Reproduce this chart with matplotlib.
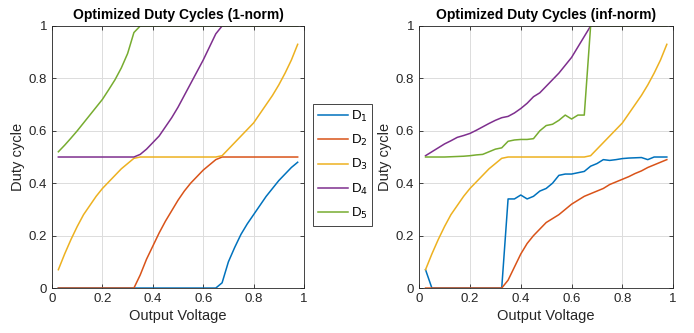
import matplotlib
matplotlib.use('Agg')
import matplotlib.pyplot as plt

plt.rcParams['font.family'] = ['Liberation Sans', 'DejaVu Sans']

# output voltage samples
vout = [0.025, 0.05, 0.075, 0.1, 0.125, 0.15, 0.175, 0.2, 0.225, 0.25,
        0.275, 0.3, 0.325, 0.35, 0.375, 0.4, 0.425, 0.45, 0.475, 0.5,
        0.525, 0.55, 0.575, 0.6, 0.625, 0.65, 0.675, 0.7, 0.725, 0.75,
        0.775, 0.8, 0.825, 0.85, 0.875, 0.9, 0.925, 0.95, 0.975]

# 1-norm duty cycles
d1_one = [0, 0, 0, 0, 0, 0, 0, 0, 0, 0,
          0, 0, 0, 0, 0, 0, 0, 0, 0, 0,
          0, 0, 0, 0, 0, 0, 0.02, 0.1, 0.155, 0.205,
          0.245, 0.28, 0.315, 0.35, 0.38, 0.41, 0.435, 0.46, 0.48]
d2_one = [0, 0, 0, 0, 0, 0, 0, 0, 0, 0,
          0, 0, 0, 0.05, 0.11, 0.16, 0.21, 0.255, 0.295, 0.335,
          0.37, 0.4, 0.425, 0.45, 0.47, 0.49, 0.5, 0.5, 0.5, 0.5,
          0.5, 0.5, 0.5, 0.5, 0.5, 0.5, 0.5, 0.5, 0.5]
d3_one = [0.07, 0.13, 0.185, 0.235, 0.28, 0.315, 0.35, 0.38, 0.405, 0.43,
          0.455, 0.475, 0.495, 0.5, 0.5, 0.5, 0.5, 0.5, 0.5, 0.5,
          0.5, 0.5, 0.5, 0.5, 0.5, 0.5, 0.505, 0.53, 0.555, 0.58,
          0.605, 0.63, 0.665, 0.7, 0.735, 0.775, 0.82, 0.87, 0.93]
d4_one = [0.5, 0.5, 0.5, 0.5, 0.5, 0.5, 0.5, 0.5, 0.5, 0.5,
          0.5, 0.5, 0.5, 0.51, 0.53, 0.555, 0.58, 0.615, 0.65, 0.69,
          0.735, 0.78, 0.825, 0.87, 0.92, 0.97, 1, 1, 1, 1,
          1, 1, 1, 1, 1, 1, 1, 1, 1]
d5_one = [0.52, 0.545, 0.572, 0.6, 0.63, 0.66, 0.69, 0.72, 0.757, 0.795,
          0.84, 0.895, 0.975, 1, 1, 1, 1, 1, 1, 1,
          1, 1, 1, 1, 1, 1, 1, 1, 1, 1,
          1, 1, 1, 1, 1, 1, 1, 1, 1]

# inf-norm duty cycles
d1_inf = [0.07, 0, 0, 0, 0, 0, 0, 0, 0, 0,
          0, 0, 0, 0.34, 0.34, 0.355, 0.34, 0.35, 0.37, 0.38,
          0.4, 0.43, 0.435, 0.435, 0.44, 0.445, 0.465, 0.475, 0.49, 0.487,
          0.49, 0.494, 0.496, 0.497, 0.498, 0.49, 0.5, 0.5, 0.5]
d2_inf = [0, 0, 0, 0, 0, 0, 0, 0, 0, 0,
          0, 0, 0, 0.03, 0.08, 0.13, 0.17, 0.2, 0.225, 0.25,
          0.265, 0.28, 0.3, 0.32, 0.335, 0.35, 0.36, 0.37, 0.38, 0.395,
          0.405, 0.415, 0.425, 0.437, 0.447, 0.46, 0.47, 0.48, 0.49]
d3_inf = d3_one
d4_inf = [0.505, 0.52, 0.535, 0.55, 0.562, 0.575, 0.582, 0.59, 0.602, 0.615,
          0.628, 0.64, 0.65, 0.655, 0.668, 0.685, 0.705, 0.73, 0.745, 0.77,
          0.795, 0.82, 0.85, 0.88, 0.92, 0.96, 1, 1, 1, 1,
          1, 1, 1, 1, 1, 1, 1, 1, 1]
d5_inf = [0.5, 0.5, 0.5, 0.5, 0.501, 0.502, 0.503, 0.505, 0.508, 0.51,
          0.52, 0.53, 0.535, 0.56, 0.565, 0.567, 0.567, 0.57, 0.6, 0.62,
          0.625, 0.64, 0.66, 0.645, 0.66, 0.66, 1, 1, 1, 1,
          1, 1, 1, 1, 1, 1, 1, 1, 1]

labels = ['D$_1$', 'D$_2$', 'D$_3$', 'D$_4$', 'D$_5$']
colors = ['#0072BD', '#D95319', '#EDB120', '#7E2F8E', '#77AC30']
ticks = [0, 0.2, 0.4, 0.6, 0.8, 1]
ticklabels = ['0', '0.2', '0.4', '0.6', '0.8', '1']

fig = plt.figure(figsize=(6.94, 3.33), dpi=100)
ax_l = fig.add_axes([0.075, 0.135, 0.363, 0.787])
ax_r = fig.add_axes([0.604, 0.135, 0.366, 0.787])

series = [
    (ax_l, [d1_one, d2_one, d3_one, d4_one, d5_one], 'Optimized Duty Cycles (1-norm)'),
    (ax_r, [d1_inf, d2_inf, d3_inf, d4_inf, d5_inf], 'Optimized Duty Cycles (inf-norm)'),
]

for ax, ys, title in series:
    for y, c, lab in zip(ys, colors, labels):
        ax.plot(vout, y, color=c, lw=1.1, label=lab)
    ax.set_xlim(0, 1)
    ax.set_ylim(0, 1)
    ax.set_xticks(ticks)
    ax.set_xticklabels(ticklabels)
    ax.set_yticks(ticks)
    ax.set_yticklabels(ticklabels)
    ax.grid(True, color='#dcdcdc', lw=0.7)
    ax.tick_params(direction='in', top=True, right=True, labelsize=9.5,
                   colors='#262626', length=3, width=0.6)
    for sp in ax.spines.values():
        sp.set_color('#262626')
        sp.set_linewidth(0.6)
    ax.set_title(title, fontsize=10, fontweight='bold', pad=5)
    ax.set_xlabel('Output Voltage', fontsize=10.5, color='#262626', labelpad=3)
    ax.set_ylabel('Duty cycle', fontsize=10.5, color='#262626', labelpad=3)

handles, labs = ax_l.get_legend_handles_labels()
leg = fig.legend(handles, labs, loc='upper left', bbox_to_anchor=(0.451, 0.688),
                 fontsize=9.5, frameon=True, fancybox=False, handlelength=2.3,
                 borderpad=0.35, labelspacing=0.7, handletextpad=0.2,
                 borderaxespad=0, framealpha=1)
leg.get_frame().set_edgecolor('#262626')
leg.get_frame().set_linewidth(0.6)

fig.savefig('out.png', dpi=100)
